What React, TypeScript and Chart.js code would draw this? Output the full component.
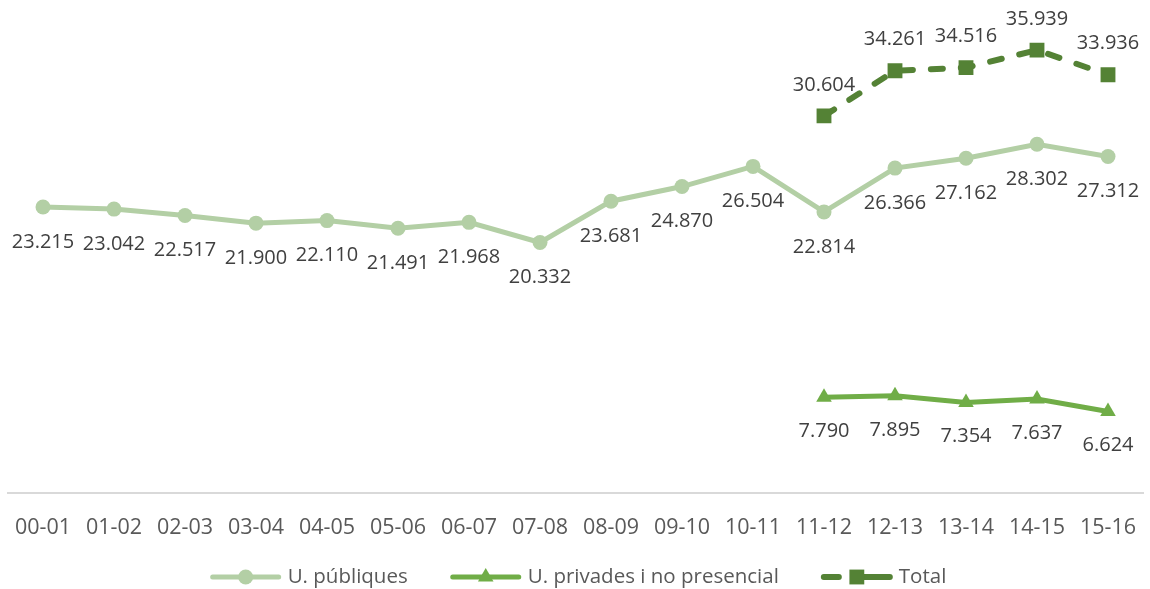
import React, { useEffect, useRef } from "react";
import { Chart, registerables } from "chart.js";

Chart.register(...registerables);

const categories = ["00-01", "01-02", "02-03", "03-04", "04-05", "05-06", "06-07", "07-08", "08-09", "09-10", "10-11", "11-12", "12-13", "13-14", "14-15", "15-16"];
const publiques = [23215, 23042, 22517, 21900, 22110, 21491, 21968, 20332, 23681, 24870, 26504, 22814, 26366, 27162, 28302, 27312];
const privades = [null, null, null, null, null, null, null, null, null, null, null, 7790, 7895, 7354, 7637, 6624];
const total = [null, null, null, null, null, null, null, null, null, null, null, 30604, 34261, 34516, 35939, 33936];
const seriesNames = ["U. públiques", "U. privades i no presencial", "Total"];

const C_LIGHT = "#B3CFA5";
const C_MID = "#70AD47";
const C_DARK = "#548235";
const FONT = "'Open Sans', 'Noto Sans', sans-serif";

const fmt = (n: number) => {
  const s = String(Math.round(n));
  return s.length > 3 ? s.slice(0, -3) + "." + s.slice(-3) : s;
};

function drawMarker(ctx: CanvasRenderingContext2D, style: string, r: number, x: number, y: number) {
  ctx.beginPath();
  if (style === "circle") {
    ctx.arc(x, y, r, 0, Math.PI * 2);
  } else if (style === "triangle") {
    const h = r * 1.5;
    const half = (r * Math.sqrt(3)) / 2;
    ctx.moveTo(x, y - r);
    ctx.lineTo(x + half, y - r + h);
    ctx.lineTo(x - half, y - r + h);
    ctx.closePath();
  } else {
    const s = r * Math.SQRT1_2;
    ctx.rect(x - s, y - s, 2 * s, 2 * s);
  }
  ctx.fill();
}

const labelPlugin = {
  id: "valueLabels",
  afterDatasetsDraw(chart: any) {
    const ctx = chart.ctx;
    ctx.save();
    ctx.font = `20px ${FONT}`;
    ctx.fillStyle = "#404040";
    ctx.textAlign = "center";
    ctx.textBaseline = "middle";
    chart.data.datasets.forEach((ds: any, i: number) => {
      const meta = chart.getDatasetMeta(i);
      meta.data.forEach((el: any, j: number) => {
        const v = ds.data[j];
        if (v == null) return;
        ctx.fillText(fmt(v), el.x, el.y + ds.labelOffset);
      });
    });
    ctx.restore();
  },
};

const legendPlugin = {
  id: "customLegend",
  afterDraw(chart: any) {
    const ctx = chart.ctx;
    ctx.save();
    ctx.font = `20.5px ${FONT}`;
    const lineLen = 72;
    const textGap = 6;
    const itemGap = 42;
    const widths = chart.data.datasets.map((ds: any) => lineLen + textGap + ctx.measureText(ds.label).width);
    const totalW = widths.reduce((a: number, b: number) => a + b, 0) + itemGap * (widths.length - 1);
    let x = chart.width / 2 + 3 - totalW / 2;
    const y = 577;
    chart.data.datasets.forEach((ds: any, i: number) => {
      ctx.strokeStyle = ds.borderColor;
      ctx.fillStyle = ds.borderColor;
      ctx.lineWidth = ds.borderWidth;
      ctx.lineCap = "round";
      const cx = x + lineLen / 2;
      ctx.beginPath();
      if (ds.borderDash && ds.borderDash.length) {
        ctx.moveTo(x + 3, y);
        ctx.lineTo(x + 18, y);
        ctx.moveTo(cx + 4, y);
        ctx.lineTo(x + lineLen - 3, y);
      } else {
        ctx.moveTo(x + 3, y);
        ctx.lineTo(x + lineLen - 3, y);
      }
      ctx.stroke();
      drawMarker(ctx, ds.pointStyle, ds.pointRadius, cx, y);
      ctx.fillStyle = "#595959";
      ctx.textAlign = "left";
      ctx.textBaseline = "middle";
      ctx.fillText(ds.label, x + lineLen + textGap, y);
      x += widths[i] + itemGap;
    });
    ctx.restore();
  },
};

export default function App() {
  const ref = useRef<HTMLCanvasElement>(null);
  useEffect(() => {
    if (!ref.current) return;
    const chart = new Chart(ref.current, {
      type: "line",
      data: {
        labels: categories,
        datasets: [
          {
            label: seriesNames[0],
            data: publiques,
            borderColor: C_LIGHT,
            backgroundColor: C_LIGHT,
            borderWidth: 5,
            pointStyle: "circle",
            pointRadius: 7.5,
            pointHoverRadius: 7.5,
            pointBorderWidth: 0,
            tension: 0,
            labelOffset: 35,
          } as any,
          {
            label: seriesNames[1],
            data: privades,
            borderColor: C_MID,
            backgroundColor: C_MID,
            borderWidth: 5,
            pointStyle: "triangle",
            pointRadius: 9,
            pointHoverRadius: 9,
            pointBorderWidth: 0,
            tension: 0,
            labelOffset: 34,
          } as any,
          {
            label: seriesNames[2],
            data: total,
            borderColor: C_DARK,
            backgroundColor: C_DARK,
            borderWidth: 6,
            borderDash: [12, 18],
            borderCapStyle: "round",
            pointStyle: "rect",
            pointRadius: 10.5,
            pointHoverRadius: 10.5,
            pointBorderWidth: 0,
            tension: 0,
            labelOffset: -31,
          } as any,
        ],
      },
      options: {
        animation: false,
        responsive: false,
        layout: { autoPadding: false, padding: { left: 7.5, right: 6.5, top: 0, bottom: 26 } },
        plugins: { legend: { display: false }, tooltip: { enabled: false } },
        scales: {
          x: {
            offset: true,
            grid: { display: false, drawTicks: false },
            border: { display: true, color: "#D9D9D9", width: 2 },
            ticks: { color: "#595959", font: { family: FONT, size: 21.5 }, padding: 22, maxRotation: 0, autoSkip: false },
            afterFit: (scale: any) => {
              scale.paddingLeft = 0;
              scale.paddingRight = 0;
            },
          },
          y: { display: false, min: 0, max: 40000 },
        },
      },
      plugins: [labelPlugin, legendPlugin],
    });
    return () => chart.destroy();
  }, []);
  return (
    <div style={{ position: "absolute", left: 0, top: 0, width: 1150, height: 589, background: "#fff" }}>
      <canvas ref={ref} width={1150} height={589} style={{ width: 1150, height: 589 }} />
    </div>
  );
}
